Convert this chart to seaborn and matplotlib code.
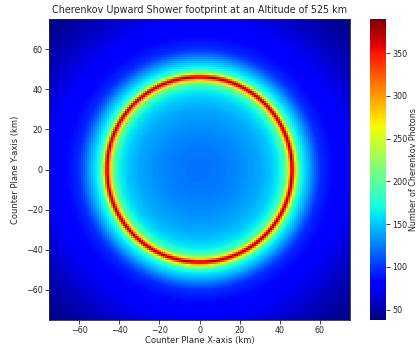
"""
Cherenkov upward shower footprint heatmap.
"""

import numpy as np
import pandas as pd
import matplotlib
matplotlib.use("Agg")
import matplotlib.pyplot as plt
import seaborn as sns

# radial photon profile (km -> photons)
radius_km = [0, 10, 20, 30, 36, 40, 42, 43, 44, 45, 46, 47, 48, 49, 50, 51, 54, 57, 60, 65, 70, 75, 85, 95, 107]
photons = [122, 124, 130, 140, 152, 168, 190, 205, 235, 315, 385, 320, 250, 212, 185, 168, 145, 120, 98, 86, 80, 76, 62, 50, 40]

# grid of 1 km bins over the counter plane
bin_edges = np.arange(-75, 76, 1)
tick_values = [-60, -40, -20, 0, 20, 40, 60]
cbar_ticks = [50, 100, 150, 200, 250, 300, 350]

centers = (bin_edges[:-1] + bin_edges[1:]) / 2
xx, yy = np.meshgrid(centers, centers[::-1])
rr = np.sqrt(xx ** 2 + yy ** 2)
grid = pd.DataFrame(np.interp(rr, radius_km, photons))

sns.set_style("white")
plt.rcParams["font.family"] = ["DejaVu Sans"]
plt.rcParams["font.size"] = 6

fig = plt.figure(figsize=(4.18, 3.44), dpi=100)
ax = fig.add_axes([49 / 418, 24 / 344, 301 / 418, 301 / 344])
cax = fig.add_axes([370 / 418, 24 / 344, 16 / 418, 301 / 344])

sns.heatmap(
    grid,
    ax=ax,
    cbar_ax=cax,
    cmap="jet",
    vmin=38,
    vmax=390,
    xticklabels=False,
    yticklabels=False,
    cbar_kws={"ticks": cbar_ticks},
)

ax.set_xticks([v + 75 for v in tick_values])
ax.set_xticklabels([str(v).replace("-", "\u2212") for v in tick_values], rotation=0)
ax.set_yticks([75 - v for v in tick_values])
ax.set_yticklabels([str(v).replace("-", "\u2212") for v in tick_values], rotation=0)
ax.tick_params(axis="both", length=3, width=0.6, labelsize=5.8, pad=1.5, bottom=True, left=True)
for spine in ax.spines.values():
    spine.set_visible(True)
    spine.set_linewidth(0.6)

ax.set_title("Cherenkov Upward Shower footprint at an Altitude of 525 km", fontsize=6.9, pad=4)
ax.set_xlabel("Counter Plane X-axis (km)", fontsize=6, labelpad=0.5)
ax.set_ylabel("Counter Plane Y-axis (km)", fontsize=6, labelpad=4)

cax.tick_params(labelsize=5.8, length=3, width=0.6, pad=1.5, right=True)
cax.set_ylabel("Number of Cherenkov Photons", fontsize=5.8, labelpad=1)

fig.savefig("out.png", dpi=100)
